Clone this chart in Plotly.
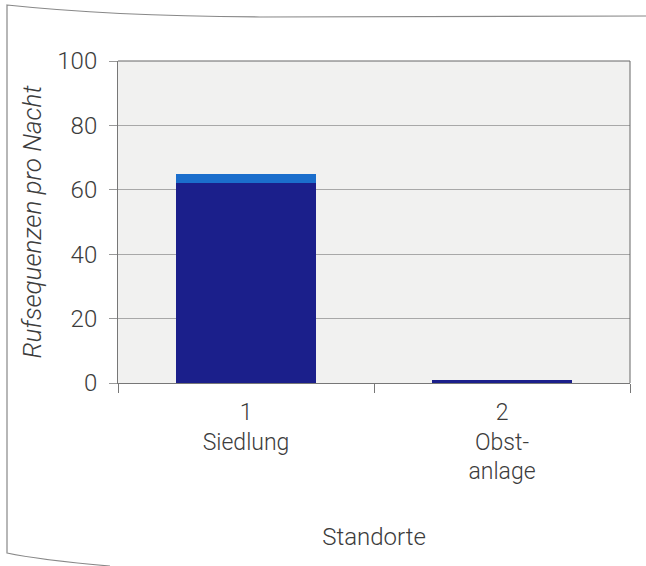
import plotly.graph_objects as go

categories = ["1<br>Siedlung", "2<br>Obst-<br>anlage"]
dark_values = [62, 0.8]
light_values = [3, 0]
y_ticks = [0, 20, 40, 60, 80, 100]

W, H = 646, 566
L, R, T, B = 118, 630, 61, 383

def px(x):
    return (x - L) / (R - L)

def py(y):
    return (B - y) / (B - T)

FONT = "Roboto, Liberation Sans, Arial, sans-serif"
font_col = "#3c3c3c"

fig = go.Figure()
fig.add_trace(go.Bar(x=categories, y=dark_values, marker=dict(color="#1b1f8b", line=dict(width=0)), width=0.55))
fig.add_trace(go.Bar(x=categories, y=light_values, marker=dict(color="#1b6ecc", line=dict(width=0)), width=0.55))

fig.update_layout(
    width=W, height=H,
    barmode="stack",
    showlegend=False,
    paper_bgcolor="white",
    plot_bgcolor="#f1f1f0",
    margin=dict(l=L, r=W - R, t=T, b=H - B, pad=0),
    font=dict(family=FONT, color=font_col, size=23, weight=300),
    xaxis=dict(
        type="category",
        tickson="boundaries",
        ticks="outside", ticklen=9, tickcolor="#777", tickwidth=1,
        showline=True, linecolor="#777", linewidth=1,
        showgrid=False,
        tickfont=dict(family=FONT, size=23, color=font_col, weight=300),
        ticklabelstandoff=8,
        title=dict(text="Standorte", font=dict(family=FONT, size=24, color=font_col, weight=300), standoff=43),
    ),
    yaxis=dict(
        range=[0, 100],
        tickvals=y_ticks,
        ticks="outside", ticklen=8, tickcolor="#999", tickwidth=1,
        showline=True, linecolor="#777", linewidth=1,
        showgrid=True, gridcolor="#a8a8a8", gridwidth=1,
        zeroline=False,
        tickfont=dict(family=FONT, size=24, color=font_col, weight=300),
        title=dict(text="Rufsequenzen pro Nacht", font=dict(family=FONT, size=26, color=font_col, weight=300, style="italic"), standoff=8),
        ticklabelstandoff=7,
    ),
    shapes=[
        dict(type="line", xref="paper", yref="paper", x0=0, x1=1, y0=1, y1=1, line=dict(color="#666", width=1)),
        dict(type="line", xref="paper", yref="paper", x0=1, x1=1, y0=0, y1=1, line=dict(color="#666", width=1)),
        dict(type="path", xref="paper", yref="paper",
             path=f"M {px(646)},{py(16)} L {px(260)},{py(17)} Q {px(110)},{py(16)} {px(7)},{py(5)} "
                  f"L {px(7)},{py(553)} Q {px(40)},{py(560)} {px(110)},{py(566)}",
             line=dict(color="#888", width=1.2)),
    ],
)

fig.write_html("out.html", config={"displayModeBar": False},
               post_script="document.body.style.margin='0';")
